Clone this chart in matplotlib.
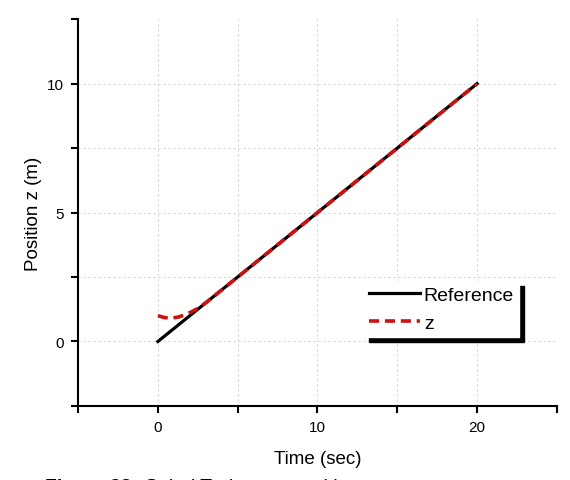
import matplotlib
matplotlib.use("Agg")
import matplotlib.pyplot as plt
from matplotlib.ticker import MultipleLocator

plt.rcParams["font.family"] = ["Liberation Sans", "DejaVu Sans"]

# reference trajectory
t_ref = [0, 20]
z_ref = [0, 10]

# measured z
t_z = [0, 0.4, 0.8, 1.3, 1.75, 2.2, 2.6, 3.0, 20]
z_z = [1.0, 0.93, 0.9, 0.95, 1.05, 1.18, 1.32, 1.5, 10]

fig = plt.figure(figsize=(5.7, 4.81), dpi=100)
ax = fig.add_axes([0.137, 0.154, 0.84, 0.804])

ax.plot(t_ref, z_ref, color="black", lw=2.3, label="Reference", zorder=3)
ax.plot(t_z, z_z, color="#cc1111", lw=2.6, ls=(0, (2.8, 1.6)), label="z", zorder=4)

ax.set_xlim(-5, 25)
ax.set_ylim(-2.5, 12.5)
ax.xaxis.set_major_locator(MultipleLocator(10))
ax.xaxis.set_minor_locator(MultipleLocator(5))
ax.yaxis.set_major_locator(MultipleLocator(5))
ax.yaxis.set_minor_locator(MultipleLocator(2.5))
ax.grid(True, which="both", color="#d6d6d6", ls=(0, (2, 2.5)), lw=0.8)
ax.set_axisbelow(True)

# no grid lines on the outer edges
fig.canvas.draw()
for tk in ax.xaxis.get_minor_ticks() + ax.xaxis.get_major_ticks():
    if tk.get_loc() in (-5, 25):
        tk.gridline.set_visible(False)
for tk in ax.yaxis.get_minor_ticks() + ax.yaxis.get_major_ticks():
    if tk.get_loc() in (-2.5, 12.5):
        tk.gridline.set_visible(False)

for s in ["top", "right"]:
    ax.spines[s].set_visible(False)
ax.spines["left"].set_linewidth(1.5)
ax.spines["bottom"].set_linewidth(1.5)
ax.tick_params(which="both", direction="out", width=1.5, length=5, labelsize=11, pad=5)

ax.set_xlabel("Time (sec)", fontsize=13.5, labelpad=12)
ax.set_ylabel("Position z (m)", fontsize=13.5)

leg = ax.legend(loc="upper right", bbox_to_anchor=(0.921, 0.323), borderaxespad=0,
                fontsize=14, frameon=True, fancybox=False, edgecolor="white",
                framealpha=1, handlelength=2.6, handletextpad=0.2, labelspacing=0.55,
                borderpad=0.26, shadow={"color": "black", "alpha": 1, "ox": 3.6, "oy": -3.6})

fig.text(0.079, 0.004, "Figure 23:", fontsize=14, fontweight="bold", va="top")
fig.text(0.255, 0.004, "Spiral Trajectory position", fontsize=14, va="top")

fig.savefig("out.png", dpi=100)
